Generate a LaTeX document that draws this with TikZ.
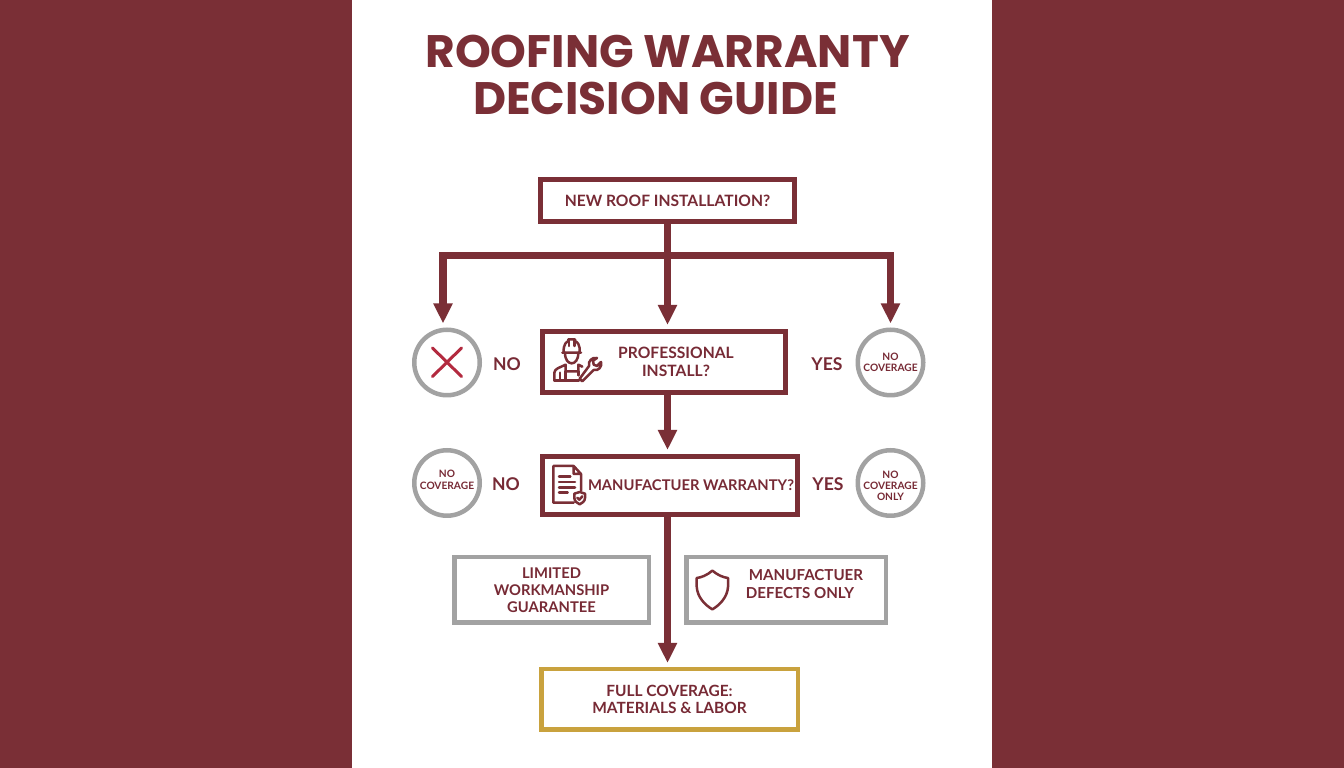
\documentclass[tikz,border=0pt]{standalone}
\usepackage{fontspec}
\setmainfont{Lato}
\newfontfamily\titlefont{Poppins}
\usetikzlibrary{arrows.meta}
\definecolor{maroon}{HTML}{7A2F36}
\definecolor{inkred}{HTML}{772A35}
\definecolor{ringgray}{HTML}{A2A2A2}
\definecolor{goldline}{HTML}{C9A23E}
\definecolor{crossred}{HTML}{B32A3F}
\begin{document}
\begin{tikzpicture}[
        box/.style={rectangle, draw=maroon, line width=0.1cm, inner xsep=0pt, align=center, text=inkred, font=\fontsize{8.9}{10.4}\selectfont\bfseries},
        sidebox/.style={rectangle, draw=ringgray, line width=0.09cm, minimum height=1.31cm, align=center, text=inkred, font=\fontsize{8.6}{9.7}\selectfont\bfseries},
        goalbox/.style={rectangle, draw=goldline, line width=0.09cm, minimum width=5.13cm, minimum height=1.21cm, align=center, text=inkred, font=\fontsize{8.8}{10}\selectfont\bfseries},
        ring/.style={circle, draw=ringgray, line width=0.09cm, minimum size=1.31cm, inner sep=0pt, align=center, text=inkred, font=\fontsize{5.8}{6.4}\selectfont\bfseries},
        answer/.style={text=inkred, font=\fontsize{10}{12}\selectfont\bfseries},
        arrow/.style={-{Triangle[width=0.36cm, length=0.4cm]}, draw=maroon, line width=0.15cm},
        trunk/.style={draw=maroon, line width=0.15cm},
        icon/.style={draw=maroon, line width=0.05cm, line join=round, line cap=round}
    ]

    % Page
    \fill[maroon] (0, 0) rectangle (26.88, 15.36);
    \fill[white] (7.04, 0) rectangle (19.84, 15.36);

    % Title
    \node[text=maroon, align=center, font=\titlefont\fontsize{25.9}{26.6}\selectfont\bfseries] (title) at (13.35, 13.86) {ROOFING WARRANTY\\DECISION GUIDE\hspace*{0.48cm}};

    % Question boxes
    \node[box, minimum width=5.08cm, minimum height=0.85cm] (newroof) at (13.35, 11.35) {NEW ROOF INSTALLATION?};
    \node[box, minimum width=4.86cm, minimum height=1.22cm] (prof) at (13.28, 8.12) {\hspace*{0.48cm}PROFESSIONAL\\\hspace*{0.48cm}INSTALL?};
    \node[box, minimum width=5.1cm, minimum height=1.16cm, font=\fontsize{8.4}{10}\selectfont\bfseries] (manu) at (13.4, 5.65) {\hspace*{0.84cm}MANUFACTUER WARRANTY?};

    % Outcome circles
    \node[ring] (nocross) at (8.94, 8.11) {};
    \node[ring] (nocover1) at (17.81, 8.11) {NO\\COVERAGE};
    \node[ring, text depth=0.13cm] (nocover2) at (8.94, 5.7) {NO\\COVERAGE};
    \node[ring] (nocover3) at (17.81, 5.7) {\rule{0pt}{0.26cm}NO\\COVERAGE\\ONLY};

    % Answers
    \node[answer] (no1) at (10.14, 8.07) {NO};
    \node[answer] (yes1) at (16.54, 8.07) {YES};
    \node[answer] (no2) at (10.12, 5.68) {NO};
    \node[answer] (yes2) at (16.56, 5.68) {YES};

    % Lower boxes
    \node[sidebox, minimum width=3.89cm, font=\fontsize{8.4}{9.6}\selectfont\bfseries] (limited) at (11.03, 3.56) {LIMITED\\WORKMANSHIP\\GUARANTEE};
    \node[sidebox, minimum width=3.99cm, text depth=0.24cm] (defects) at (15.72, 3.56) {\hspace*{0.8cm}MANUFACTUER\\\hspace*{0.56cm}DEFECTS ONLY};
    \node[goalbox] (full) at (13.39, 1.37) {FULL COVERAGE:\\MATERIALS \& LABOR};

    % Arrows
    \coordinate (split) at (newroof.south |- 0, 10.25);
    \draw[trunk] (newroof.south) -- (split);
    \draw[arrow, shorten >=0.08cm] (split) -- (newroof.south |- prof.north);
    \draw[arrow, shorten >=0.08cm] (split) -| ([xshift=-0.08cm]nocross.north);
    \draw[arrow, shorten >=0.08cm] (split) -| (nocover1.north);
    \draw[arrow, shorten >=0.08cm] (newroof.south |- prof.south) -- (newroof.south |- manu.north);
    \draw[arrow, shorten >=0.08cm] (newroof.south |- manu.south) -- (newroof.south |- full.north);

    % Cross in the first circle
    \draw[crossred, line width=0.06cm, line cap=round] (8.65, 8.4) -- (9.23, 7.83) (9.23, 8.4) -- (8.65, 7.83);

    % Worker icon
    \begin{scope}[shift={(10.9, 8.72)}, x=0.00667cm, y=-0.00667cm]
        \draw[icon] (52,62) -- (108,62) (56,62) .. controls (54,36) and (66,28) .. (70,28) -- (70,22) -- (90,22) -- (90,28) .. controls (96,28) and (106,38) .. (104,62);
        \draw[icon] (72,24) -- (72,42) (88,24) -- (88,42);
        \draw[icon] (60,62) .. controls (60,84) and (70,94) .. (80,94) .. controls (90,94) and (100,84) .. (100,62);
        \draw[icon] (28,146) -- (28,122) .. controls (28,110) and (46,106) .. (62,98) -- (62,118) -- (100,118) -- (100,98) -- (112,104);
        \draw[icon] (62,118) -- (62,146) -- (28,146) (45,122) -- (45,146) (62,146) -- (102,146) (100,118) -- (100,130);
        \draw[icon] (104,140) -- (112,148) -- (146,114) .. controls (160,118) and (172,104) .. (168,90) -- (156,102) -- (146,98) -- (144,86) -- (156,78) .. controls (142,74) and (128,88) .. (132,102) -- cycle;
    \end{scope}

    % Document icon
    \begin{scope}[shift={(10.9, 6.16)}, x=0.00667cm, y=-0.00667cm]
        \draw[icon] (86,128) -- (25,128) -- (25,18) -- (86,18) -- (108,42) -- (108,92) (86,18) -- (86,42) -- (108,42);
        \draw[icon] (42,50) -- (76,50) (42,66) -- (90,66) (42,82) -- (90,82) (42,98) -- (68,98);
        \draw[icon, fill=white] (104,96) -- (120,101) -- (120,114) .. controls (120,124) and (110,130) .. (104,133) .. controls (98,130) and (88,124) .. (88,114) -- (88,101) -- cycle;
        \draw[icon] (97,113) -- (103,119) -- (112,109);
    \end{scope}

    % Shield icon
    \begin{scope}[shift={(8.8, 4.56)}, x=0.00667cm, y=-0.00667cm]
        \draw[draw=maroon, line width=0.05cm, line join=round] (817,92) .. controls (800,106) and (785,112) .. (770,114) -- (770,140) .. controls (772,172) and (795,195) .. (817,208) .. controls (839,195) and (862,172) .. (864,140) -- (864,114) .. controls (849,112) and (834,106) .. (817,92) -- cycle;
    \end{scope}

\end{tikzpicture}
\end{document}
